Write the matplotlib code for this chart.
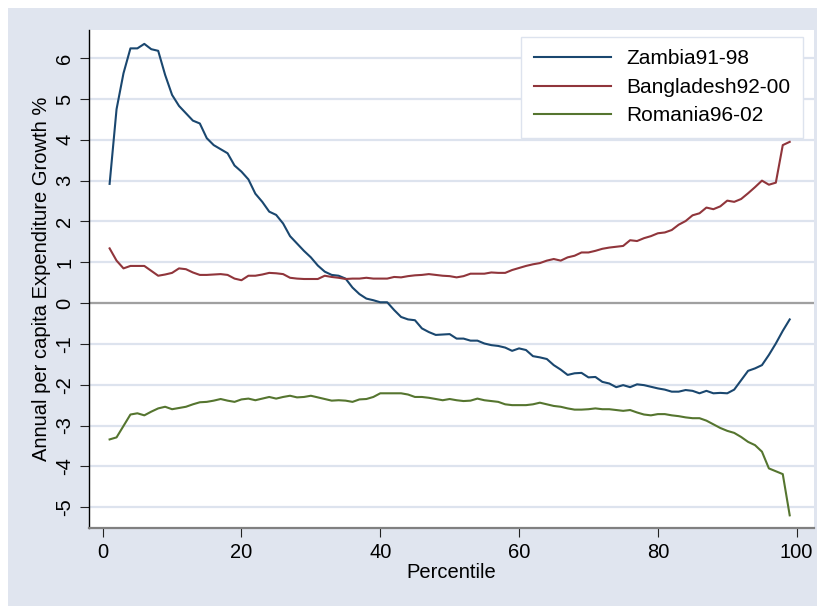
import matplotlib
matplotlib.use("Agg")
import matplotlib.pyplot as plt
from matplotlib.patches import Rectangle
import numpy as np

# growth incidence curves, percentiles 1..99
percentile = np.arange(1, 100)

zambia = [
    2.92, 4.75, 5.63, 6.24, 6.24, 6.35, 6.22, 6.18, 5.59, 5.10,
    4.83, 4.65, 4.47, 4.40, 4.04, 3.87, 3.77, 3.67, 3.37, 3.22,
    3.03, 2.68, 2.48, 2.24, 2.16, 1.95, 1.64, 1.46, 1.28, 1.12,
    0.92, 0.77, 0.69, 0.67, 0.60, 0.38, 0.22, 0.11, 0.07, 0.02,
    0.02, -0.17, -0.34, -0.40, -0.42, -0.62, -0.71, -0.78, -0.77, -0.76,
    -0.87, -0.87, -0.92, -0.92, -0.99, -1.03, -1.05, -1.09, -1.17, -1.11,
    -1.15, -1.30, -1.33, -1.37, -1.52, -1.63, -1.76, -1.72, -1.71, -1.82,
    -1.81, -1.93, -1.97, -2.06, -2.01, -2.06, -1.99, -2.01, -2.05, -2.09,
    -2.12, -2.17, -2.17, -2.13, -2.15, -2.21, -2.15, -2.21, -2.20, -2.21,
    -2.12, -1.89, -1.66, -1.60, -1.52, -1.27, -0.99, -0.68, -0.40,
]

bangladesh = [
    1.34, 1.04, 0.85, 0.91, 0.91, 0.91, 0.79, 0.67, 0.70, 0.74,
    0.85, 0.83, 0.75, 0.69, 0.69, 0.70, 0.71, 0.69, 0.60, 0.56,
    0.67, 0.67, 0.70, 0.74, 0.73, 0.71, 0.62, 0.60, 0.59, 0.59,
    0.59, 0.67, 0.64, 0.62, 0.59, 0.60, 0.60, 0.62, 0.60, 0.60,
    0.60, 0.64, 0.63, 0.66, 0.68, 0.69, 0.71, 0.69, 0.67, 0.66,
    0.63, 0.66, 0.72, 0.72, 0.72, 0.75, 0.74, 0.74, 0.81, 0.86,
    0.91, 0.95, 0.98, 1.04, 1.08, 1.04, 1.12, 1.16, 1.24, 1.24,
    1.28, 1.33, 1.36, 1.38, 1.40, 1.54, 1.52, 1.59, 1.64, 1.71,
    1.73, 1.79, 1.92, 2.01, 2.15, 2.20, 2.34, 2.30, 2.37, 2.51,
    2.48, 2.55, 2.69, 2.84, 3.00, 2.90, 2.95, 3.87, 3.95,
]

romania = [
    -3.34, -3.29, -3.01, -2.73, -2.70, -2.75, -2.66, -2.58, -2.54, -2.60,
    -2.57, -2.54, -2.48, -2.43, -2.42, -2.39, -2.35, -2.39, -2.42, -2.36,
    -2.34, -2.38, -2.34, -2.30, -2.34, -2.30, -2.27, -2.31, -2.30, -2.27,
    -2.31, -2.35, -2.39, -2.38, -2.39, -2.42, -2.36, -2.35, -2.30, -2.21,
    -2.21, -2.21, -2.21, -2.24, -2.30, -2.30, -2.32, -2.35, -2.38, -2.35,
    -2.38, -2.40, -2.39, -2.34, -2.38, -2.40, -2.42, -2.48, -2.50, -2.50,
    -2.50, -2.48, -2.44, -2.48, -2.52, -2.54, -2.58, -2.61, -2.61, -2.60,
    -2.58, -2.60, -2.60, -2.62, -2.64, -2.62, -2.68, -2.73, -2.75, -2.72,
    -2.72, -2.75, -2.77, -2.80, -2.82, -2.82, -2.88, -2.97, -3.06, -3.13,
    -3.18, -3.28, -3.40, -3.48, -3.64, -4.05, -4.12, -4.19, -5.20,
]

series = [
    ("Zambia91-98", zambia, "#1a476f"),
    ("Bangladesh92-00", bangladesh, "#90353b"),
    ("Romania96-02", romania, "#55752f"),
]

x_ticks = [0, 20, 40, 60, 80, 100]
y_ticks = list(range(-5, 7))

bg = "#e0e5ef"
grid_col = "#dde3ee"

plt.rcParams["font.family"] = ["Liberation Sans", "DejaVu Sans"]

W, H = 817, 606
fig = plt.figure(figsize=(W / 100, H / 100), dpi=100)
fig.patch.set_facecolor("white")
# Stata-style graph region
fig.add_artist(Rectangle((8 / W, 0), 1 - 8 / W, 1 - 8 / H,
                         transform=fig.transFigure, facecolor=bg,
                         edgecolor="none", zorder=0))

ax = fig.add_axes([89 / W, 1 - 528 / H, (814 - 89) / W, (528 - 30) / H])
ax.set_facecolor("white")

for y in y_ticks:
    ax.axhline(y, color=grid_col, lw=1.6, zorder=1)
ax.axhline(0, color="#a0a0a0", lw=1.6, zorder=2)

for name, vals, col in series:
    ax.plot(percentile, vals, color=col, lw=1.5, label=name, zorder=3)

ax.set_xlim(-1.97, 102.5)
ax.set_ylim(-5.51, 6.69)
ax.set_xticks(x_ticks)
ax.set_yticks(y_ticks)
ax.set_yticklabels([str(v) for v in y_ticks], rotation=90, va="center")

for s in ("top", "right"):
    ax.spines[s].set_visible(False)
ax.spines["left"].set_color("#000000")
ax.spines["left"].set_linewidth(1.0)
ax.spines["bottom"].set_color("#808080")
ax.spines["bottom"].set_linewidth(1.6)

ax.tick_params(axis="both", direction="out", length=6.5, width=0.8,
               color="#222222", labelsize=14.5, pad=4)

ax.set_xlabel("Percentile", fontsize=14.5, labelpad=1)
ax.set_ylabel("Annual per capita Expenditure Growth %", fontsize=14.5,
              labelpad=3)

leg = ax.legend(loc="upper right", bbox_to_anchor=(803 / W, 1 - 37 / H),
                bbox_transform=fig.transFigure, borderaxespad=0,
                fontsize=15, handlelength=3.7, handletextpad=0.75,
                labelspacing=0.45, borderpad=0.6, fancybox=False,
                framealpha=1, edgecolor="#dde3ee")
leg.get_frame().set_linewidth(1.0)
for line in leg.get_lines():
    line.set_linewidth(1.5)

fig.savefig("out.png", dpi=100)
